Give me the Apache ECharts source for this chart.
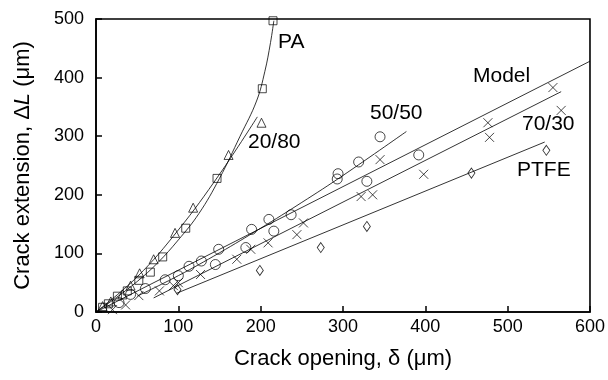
<!DOCTYPE html>
<html>
<head>
<meta charset="utf-8">
<script src="https://cdn.jsdelivr.net/npm/echarts@6/dist/echarts.min.js"></script>
<style>
  html, body { margin: 0; padding: 0; background: #fff; }
  #chart { width: 608px; height: 380px; }
</style>
</head>
<body>
<div id="chart"></div>
<script>
// Axis ticks
const xTicks = [0, 100, 200, 300, 400, 500, 600];
const yTicks = [0, 100, 200, 300, 400, 500];

// Measured points: crack opening (x, µm) and crack extension (y, µm)
const paX = [8, 15, 26, 38, 52, 66, 81, 109, 147, 202, 215];
const paY = [8, 14, 27, 36, 54, 68, 94, 143, 228, 381, 497];

const pe2080X = [8, 18, 32, 42, 53, 70, 96, 118, 161, 201];
const pe2080Y = [10, 18, 30, 45, 66, 90, 135, 178, 268, 323];

const pe5050X = [28, 42, 60, 84, 100, 113, 128, 145, 149, 182, 189, 210, 216, 237, 293, 294, 319, 329, 345, 392];
const pe5050Y = [16, 30, 40, 55, 62, 78, 87, 81, 107, 110, 141, 158, 138, 166, 227, 236, 256, 223, 299, 268];

const pe7030X = [20, 36, 52, 77, 94, 100, 127, 171, 188, 209, 244, 252, 322, 336, 345, 398, 476, 478, 555, 565];
const pe7030Y = [4, 12, 28, 36, 45, 50, 64, 90, 107, 118, 132, 152, 197, 200, 260, 235, 323, 298, 383, 344];

const ptfeX = [99, 199, 273, 329, 456, 547];
const ptfeY = [38, 71, 110, 146, 237, 276];

// Fitted curves
const paFitX = [0, 25, 50, 75, 100, 125, 150, 175, 195, 205, 212, 216];
const paFitY = [0, 25, 52, 84, 123, 168, 228, 300, 360, 410, 460, 497];

const fit2080X = [0, 50, 100, 150, 196];
const fit2080Y = [0, 60, 140, 235, 333];

const fit5050X = [50, 100, 150, 200, 250, 300, 377];
const fit5050Y = [27, 62, 101, 143, 187, 233, 308];

const modelX = [0, 600];
const modelY = [0, 428];

const fit7030X = [70, 565];
const fit7030Y = [24, 376];

const fitPtfeX = [98, 545];
const fitPtfeY = [32, 290];

// Curve names written next to the lines
const curveNames = ['PA', '20/80', '50/50', 'Model', '70/30', 'PTFE'];

const zip = (xs, ys) => xs.map((x, i) => [x, ys[i]]);

const FONT = 'Liberation Sans, Arial, Helvetica, sans-serif';
const markStyle = { color: 'transparent', borderColor: '#000', borderWidth: 0.9 };
const crossPath = 'path://M0,0L10,10M10,0L0,10';

function points(name, xs, ys, symbol, size, extra) {
  return Object.assign({
    name, type: 'scatter', data: zip(xs, ys), symbol, symbolSize: size,
    itemStyle: markStyle, z: 3, silent: true
  }, extra || {});
}

function curve(name, xs, ys, smooth) {
  return {
    name, type: 'line', data: zip(xs, ys), symbol: 'none', smooth: smooth ? 0.4 : false,
    lineStyle: { color: '#000', width: 0.8 }, z: 2, silent: true
  };
}

// Pixel anchors (left edge, vertical centre) of the curve names
const labelPos = [
  [278, 44], [248, 144], [370, 115], [473, 78], [522, 126], [517, 172]
];

const chart = echarts.init(document.getElementById('chart'), null, { renderer: 'canvas' });
chart.setOption({
  animation: false,
  backgroundColor: '#fff',
  textStyle: { fontFamily: FONT },
  grid: { left: 96, right: 16, top: 19, bottom: 68, show: true, borderColor: '#000', borderWidth: 1.6 },
  xAxis: {
    type: 'value', min: xTicks[0], max: xTicks[xTicks.length - 1], interval: 100,
    axisLine: { show: true, lineStyle: { color: '#000', width: 1.6 } },
    axisTick: { show: true, inside: true, length: 6, lineStyle: { color: '#000', width: 1.5 } },
    axisLabel: { color: '#000', fontSize: 18, margin: 6, showMaxLabel: true, showMinLabel: true },
    splitLine: { show: false },
    name: 'Crack opening, δ (μm)', nameLocation: 'middle', nameGap: 36,
    nameTextStyle: { color: '#000', fontSize: 22 }
  },
  yAxis: {
    type: 'value', min: yTicks[0], max: yTicks[yTicks.length - 1], interval: 100,
    axisLine: { show: true, lineStyle: { color: '#000', width: 1.6 } },
    axisTick: { show: true, inside: true, length: 6, lineStyle: { color: '#000', width: 1.5 } },
    axisLabel: { color: '#000', fontSize: 18, margin: 12 },
    splitLine: { show: false },
    name: '{a|Crack extension, Δ}{b|L}{a| (μm)}', nameLocation: 'middle', nameGap: 62,
    nameTextStyle: {
      color: '#000', fontSize: 22,
      rich: {
        a: { fontSize: 22, color: '#000' },
        b: { fontSize: 22, color: '#000', fontStyle: 'italic' }
      }
    }
  },
  graphic: curveNames.map((t, i) => ({
    type: 'text', left: labelPos[i][0], top: labelPos[i][1] - 12,
    style: { text: t, fontSize: 21, fill: '#000', fontFamily: FONT },
    z: 10
  })),
  series: [
    curve('PA fit', paFitX, paFitY, true),
    curve('20/80 fit', fit2080X, fit2080Y, true),
    curve('50/50 fit', fit5050X, fit5050Y, true),
    curve('Model', modelX, modelY, false),
    curve('70/30 fit', fit7030X, fit7030Y, false),
    curve('PTFE fit', fitPtfeX, fitPtfeY, false),
    points('PA', paX, paY, 'rect', 8),
    points('20/80', pe2080X, pe2080Y, 'triangle', 9),
    points('50/50', pe5050X, pe5050Y, 'circle', 10),
    points('70/30', pe7030X, pe7030Y, crossPath, 9, {
      itemStyle: { color: 'none', borderColor: '#000', borderWidth: 0.9 }
    }),
    points('PTFE', ptfeX, ptfeY, 'diamond', [7, 10])
  ]
});
</script>
</body>
</html>
